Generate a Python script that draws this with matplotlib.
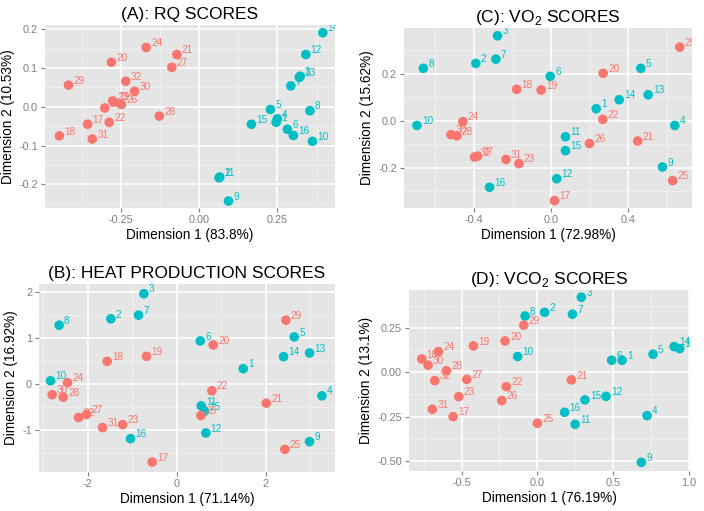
import numpy as np
import matplotlib
matplotlib.use('Agg')
from matplotlib import pyplot as plt
from matplotlib.ticker import FixedLocator

plt.rcParams['font.family'] = ['Liberation Sans', 'DejaVu Sans']

# subjects 1-16 are group one (teal), 17-32 group two (red)
ids = list(range(1, 33))

rq_x = [0.246, 0.066, 0.323, 0.250, 0.228, 0.282, 0.293, 0.354, 0.094, 0.362, 0.064, 0.341, 0.320, 0.395, 0.167, 0.301,
        -0.356, -0.446, -0.272, -0.280, -0.071, -0.287, -0.276, -0.169, -0.301, -0.248, -0.087, -0.127, -0.417, -0.206, -0.341, -0.234]
rq_y = [-0.040, -0.181, 0.079, -0.031, -0.007, -0.058, 0.054, -0.010, -0.243, -0.089, -0.183, 0.135, 0.076, 0.191, -0.045, -0.074,
        -0.045, -0.075, 0.013, 0.115, 0.135, -0.040, 0.015, 0.153, -0.003, 0.006, 0.102, -0.024, 0.056, 0.040, -0.083, 0.066]

heat_x = [1.498, -1.476, -0.734, 3.266, 2.644, 0.532, -0.854, -2.637, 2.989, -2.831, 0.554, 0.659, 2.989, 2.404, 0.629, -1.034,
          -0.547, -1.558, -0.674, 0.824, 2.015, 0.794, -1.213, -2.449, 2.434, 0.547, -2.022, -2.547, 2.457, -2.794, -1.663, -2.202]
heat_y = [0.333, 1.410, 1.952, -0.253, 1.020, 0.933, 1.490, 1.273, -1.244, 0.072, -0.470, -1.056, 0.672, 0.593, -0.586, -1.179,
          -1.685, 0.492, 0.600, 0.846, -0.412, -0.145, -0.875, 0.029, -1.410, -0.680, -0.658, -0.282, 1.381, -0.231, -0.940, -0.723]

vo2_x = [0.233, -0.390, -0.278, 0.640, 0.464, -0.005, -0.286, -0.662, 0.576, -0.695, 0.074, 0.029, 0.502, 0.352, 0.074, -0.319,
         0.017, -0.179, -0.052, 0.269, 0.448, 0.267, -0.167, -0.457, 0.629, 0.198, -0.381, -0.488, 0.666, -0.519, -0.234, -0.397]
vo2_y = [0.051, 0.243, 0.360, -0.020, 0.222, 0.188, 0.261, 0.222, -0.196, -0.020, -0.068, -0.246, 0.110, 0.089, -0.127, -0.282,
         -0.339, 0.133, 0.130, 0.201, -0.086, 0.006, -0.182, -0.004, -0.254, -0.097, -0.150, -0.064, 0.312, -0.059, -0.164, -0.154]

vco2_x = [0.559, 0.048, 0.290, 0.724, 0.763, 0.490, 0.231, -0.081, 0.686, -0.130, 0.249, 0.453, 0.939, 0.902, 0.314, 0.180,
          -0.556, -0.763, -0.422, -0.213, 0.224, -0.205, -0.519, -0.653, 0.000, -0.235, -0.466, -0.600, -0.090, -0.721, -0.693, -0.677]
vco2_y = [0.068, 0.339, 0.424, -0.245, 0.102, 0.068, 0.328, 0.318, -0.509, 0.089, -0.294, -0.136, 0.134, 0.145, -0.156, -0.226,
          -0.251, 0.075, 0.149, 0.177, -0.043, -0.081, -0.138, 0.117, -0.288, -0.160, -0.040, 0.009, 0.266, 0.040, -0.209, -0.047]

TEAL = '#00BFC4'
RED = '#F8766D'
W, H = 704, 511


# Draws one score panel in ggplot2 grey style
# box is (left, right, top, bottom) in pixels of the figure
def panel(fig, box, xs, ys, title, xlab, ylab, xlim, ylim, xmaj, ymaj, xfmt, yfmt):
    l, r, t, b = box
    ax = fig.add_axes([l / W, 1 - b / H, (r - l) / W, (b - t) / H])
    ax.set_facecolor('#E5E5E5')
    for s in ax.spines.values():
        s.set_visible(False)

    # minor lines halfway between the major ones
    xstep = xmaj[1] - xmaj[0]
    ystep = ymaj[1] - ymaj[0]
    xmin = np.arange(xmaj[0] - 3 * xstep / 2, xmaj[-1] + 2 * xstep, xstep)
    ymin = np.arange(ymaj[0] - 3 * ystep / 2, ymaj[-1] + 2 * ystep, ystep)
    for v in xmin:
        ax.axvline(v, color='#F2F2F2', lw=0.6, zorder=0)
    for v in ymin:
        ax.axhline(v, color='#F2F2F2', lw=0.6, zorder=0)
    for v in xmaj:
        ax.axvline(v, color='white', lw=1.2, zorder=0)
    for v in ymaj:
        ax.axhline(v, color='white', lw=1.2, zorder=0)

    cols = [TEAL if i <= 16 else RED for i in ids]
    ax.scatter(xs, ys, s=48, c=cols, linewidths=0, zorder=3)
    for i, x, y, c in zip(ids, xs, ys, cols):
        ax.annotate(str(i), (x, y), xytext=(3.5, -0.5), textcoords='offset points',
                    ha='left', va='bottom', fontsize=7.2, color=c, zorder=4,
                    annotation_clip=False, clip_on=True)

    ax.set_xlim(xlim)
    ax.set_ylim(ylim)
    ax.xaxis.set_major_locator(FixedLocator(xmaj))
    ax.yaxis.set_major_locator(FixedLocator(ymaj))
    ax.set_xticklabels([xfmt % v for v in xmaj])
    ax.set_yticklabels([yfmt % v for v in ymaj])
    ax.tick_params(colors='#7F7F7F', labelcolor='#7F7F7F', labelsize=7.8, length=3, width=0.8, pad=2)
    ax.set_title(title, fontsize=12.5, pad=4)
    ax.set_xlabel(xlab, fontsize=9.8, labelpad=2)
    ax.set_ylabel(ylab, fontsize=9.8, labelpad=3)
    return ax


fig = plt.figure(figsize=(7.04, 5.11), dpi=100)

panel(fig, (45, 335, 25, 208), rq_x, rq_y, '(A): RQ SCORES',
      'Dimension 1 (83.8%)', 'Dimension 2 (10.53%)',
      (-0.492, 0.434), (-0.261, 0.211),
      [-0.25, 0.0, 0.25], [-0.2, -0.1, 0.0, 0.1, 0.2], '%.2f', '%.1f')

panel(fig, (404, 692, 28, 208), vo2_x, vo2_y, r'(C): VO$_\mathregular{2}$ SCORES',
      'Dimension 1 (72.98%)', 'Dimension 2 (15.62%)',
      (-0.762, 0.729), (-0.370, 0.393),
      [-0.4, 0.0, 0.4], [-0.2, 0.0, 0.2], '%.1f', '%.1f')

panel(fig, (39, 335, 284, 472), heat_x, heat_y, '(B): HEAT PRODUCTION SCORES',
      'Dimension 1 (71.14%)', 'Dimension 2 (16.92%)',
      (-3.09, 3.56), (-1.90, 2.163),
      [-2, 0, 2], [-1, 0, 1, 2], '%d', '%d')

panel(fig, (409, 690, 290, 471), vco2_x, vco2_y, r'(D): VCO$_\mathregular{2}$ SCORES',
      'Dimension 1 (76.19%)', 'Dimension 2 (13.1%)',
      (-0.847, 1.007), (-0.558, 0.465),
      [-0.5, 0.0, 0.5, 1.0], [-0.5, -0.25, 0.0, 0.25], '%.1f', '%.2f')

fig.savefig('out.png', dpi=100)
